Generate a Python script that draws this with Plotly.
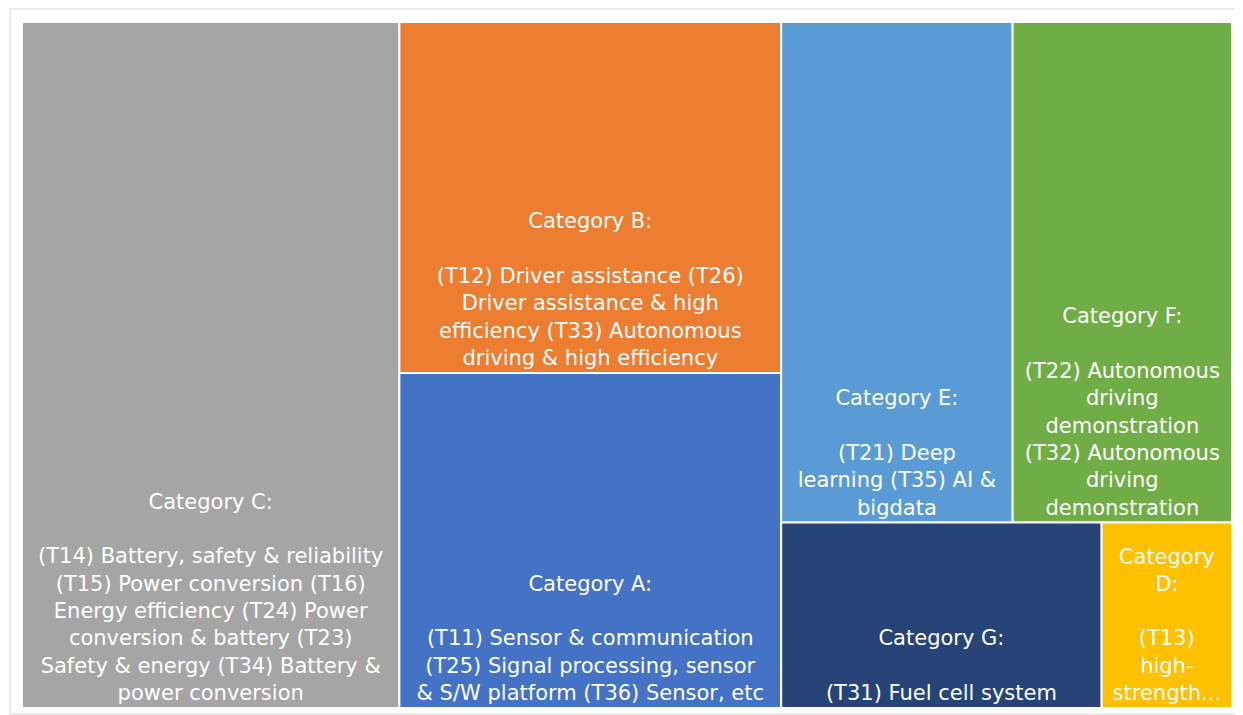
import plotly.graph_objects as go

# ---- data ----
categories = ["Category C", "Category B", "Category A", "Category E",
              "Category F", "Category G", "Category D"]
values = [257, 133, 127, 115, 109, 59, 24]
headings = ["Category C:", "Category B:", "Category A:", "Category E:",
            "Category F:", "Category G:", "Category<br>D:"]
descriptions = [
    "(T14) Battery, safety & reliability<br>(T15) Power conversion (T16)<br>Energy efficiency (T24) Power<br>conversion & battery (T23)<br>Safety & energy (T34) Battery &<br>power conversion",
    "(T12) Driver assistance (T26)<br>Driver assistance & high<br>efficiency (T33) Autonomous<br>driving & high efficiency",
    "(T11) Sensor & communication<br>(T25) Signal processing, sensor<br>& S/W platform (T36) Sensor, etc",
    "(T21) Deep<br>learning (T35) AI &<br>bigdata",
    "(T22) Autonomous<br>driving<br>demonstration<br>(T32) Autonomous<br>driving<br>demonstration",
    "(T31) Fuel cell system",
    "(T13)<br>high-<br>strength...",
]
colors = ["#A5A5A5", "#ED7D31", "#4472C4", "#5B9BD5", "#70AD47", "#264478", "#FFC000"]
# block structure used only to arrange the tiles like the original
groups = ["", "grpBA", "grpBA", "grpEF", "grpEF", "grpGD", "grpGD"]
group_ids = ["grpBA", "grpRight", "grpEF", "grpGD"]
group_parents = ["", "", "grpRight", "grpRight"]

# order: C first (top level), then the grouping nodes, then the other categories
ids = [categories[0]] + group_ids + categories[1:]
parents = [groups[0]] + group_parents + groups[1:]
vals = [values[0]] + [0] * len(group_ids) + values[1:]
cat_text = [h + "<br><br>" + d for h, d in zip(headings, descriptions)]
texts = [cat_text[0]] + [""] * len(group_ids) + cat_text[1:]
mcolors = [colors[0]] + ["#FFFFFF"] * len(group_ids) + colors[1:]
lwidths = [2] + [0] * len(group_ids) + [2] * (len(categories) - 1)

fig = go.Figure(go.Treemap(
    ids=ids,
    labels=ids,
    parents=parents,
    values=vals,
    branchvalues="remainder",
    sort=False,
    text=texts,
    texttemplate="%{text}",
    textposition="bottom center",
    textfont=dict(family="DejaVu Sans, Liberation Sans, Arial, sans-serif", size=21, color="#FFFFFF"),
    marker=dict(colors=mcolors, line=dict(color="#FFFFFF", width=lwidths),
                pad=dict(t=0, l=0, r=0, b=0)),
    tiling=dict(packing="slice-dice", pad=0),
    pathbar=dict(visible=False),
    hoverinfo="skip",
))

fig.update_layout(
    width=1235, height=707,
    margin=dict(l=14, r=11, t=14, b=7),
    paper_bgcolor="#FFFFFF",
    uniformtext=dict(minsize=21, mode="show"),
    shapes=[dict(type="rect", xref="paper", yref="paper",
                 x0=-0.0099, x1=1.0083, y0=-0.0088, y1=1.019,
                 line=dict(color="#D9D9D9", width=1), fillcolor="rgba(0,0,0,0)")],
)

fig.write_html("out.html")
